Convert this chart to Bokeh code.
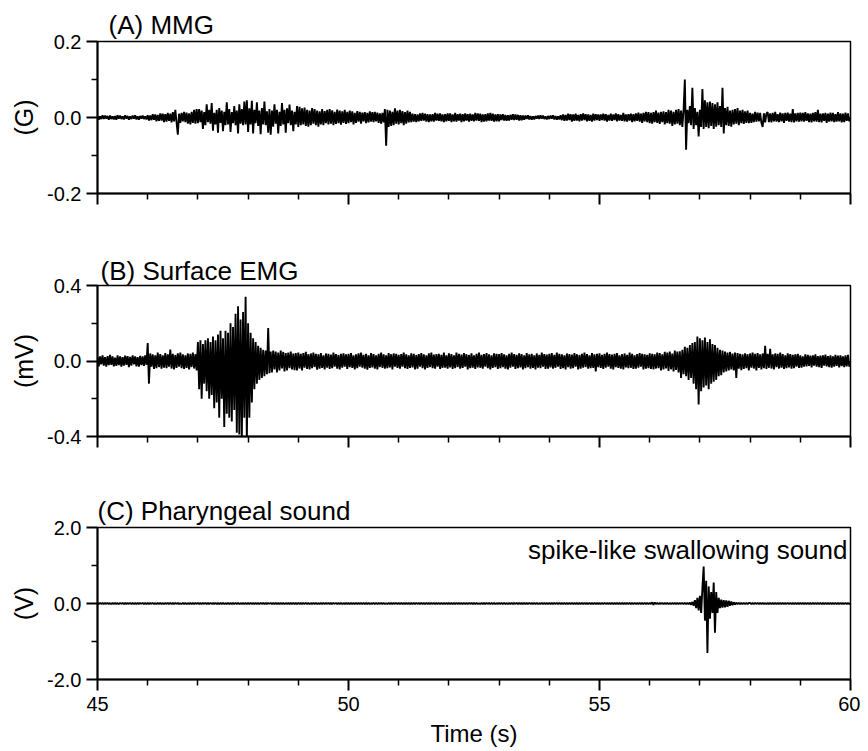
import numpy as np
from bokeh.plotting import figure
from bokeh.layouts import column
from bokeh.models import Range1d, FixedTicker, PrintfTickFormatter, Label
from bokeh.embed import file_html
from bokeh.resources import INLINE

# ---------------- data ----------------
# one row per second (45 s ... 59 s), 0.025 s between samples; last sample at 60 s
t_first = 45
t_step = 0.025

# (A) MMG, values in milli-gauss (shown in G on the axis)
mmg_mG = [
    [4,-6,3,-4,6,-4,5,-3,4,-6,5,-4,3,-5,4,-6,6,-3,5,-4,3,-5,6,-3,4,-6,3,-4,5,-3,6,-5,3,-6,4,-3,5,-4,3,-5],
    [6,-8,5,-7,9,-6,8,-10,7,-9,11,-8,10,-12,9,-11,12,-9,10,-13,14,-10,20,-12,-45,10,-14,12,-10,15,-12,13,-16,11,-18,15,-14,20,-16,22],
    [-15,22,-12,18,-30,14,-20,35,-12,20,-16,38,-35,12,-18,20,-40,25,-14,18,-36,15,-20,40,-18,22,-38,14,-15,30,-20,18,-42,35,-16,22,-20,42,-18,45],
    [-38,24,-18,44,-42,20,-15,40,-22,18,-44,25,-18,42,-20,16,-40,22,-45,18,-24,35,-16,20,-42,15,-22,38,-18,20,-40,24,-15,34,-20,18,-36,15,-18,30],
    [-25,28,-20,24,-18,26,-22,20,-24,18,-20,25,-16,22,-20,18,-24,16,-18,22,-20,17,-15,20,-18,22,-16,19,-20,15,-17,21,-15,18,-19,16,-14,20,-17,15],
    [-15,18,-12,16,-18,12,-14,17,-11,15,-16,13,-10,14,-15,12,-13,16,-11,14,-12,15,-10,13,-14,11,-16,12,-13,22,-74,20,-25,18,-22,15,-20,24,-16,18],
    [-18,20,-15,17,-20,14,-16,18,-13,15,-12,10,-11,9,-12,8,-10,11,-9,12,-8,10,-11,9,-12,8,-10,9,-11,12,-8,10,-9,11,-10,8,-12,9,-10,11],
    [-9,11,-12,8,-10,12,-11,9,-8,10,-12,9,-10,11,-8,9,-11,10,-9,8,-10,12,-8,11,-9,10,-12,8,-11,9,-10,11,-8,12,-9,10,-11,8,-10,9],
    [-10,8,-7,9,-8,7,-9,6,-8,7,-6,9,-7,8,-6,7,-8,6,-7,5,-6,5,-4,6,-5,4,-6,3,-5,4,-3,5,-4,6,-3,5,-4,3,-5,4],
    [-4,5,-3,6,-5,4,-6,3,-5,6,-7,8,-9,7,-8,10,-7,9,-11,8,-9,10,-8,7,-10,9,-8,11,-7,9,-10,8,-9,7,-11,10,-8,9,-7,8],
    [-9,8,-7,10,-8,9,-11,7,-8,10,-9,8,-7,11,-10,9,-8,7,-9,12,-10,8,-11,9,-8,10,-12,9,-10,11,-9,13,-11,10,-14,12,-10,15,-12,14],
    [-15,12,-16,14,-12,18,-14,13,-17,15,-12,16,-18,14,-15,20,-16,18,-22,15,-18,20,-16,22,-20,18,-25,20,100,-85,20,-15,30,-20,78,-30,25,-20,15,-50],
    [20,-25,75,-30,45,-25,40,-28,42,-22,38,-30,35,-24,40,-20,30,-25,78,-42,25,-20,28,-22,18,-24,20,-18,22,-16,25,-20,18,-15,20,-17,16,-14,18,-15],
    [12,-14,10,-12,15,-11,13,-10,12,-14,-25,11,-13,10,14,-12,11,-13,12,-10,15,-11,9,-12,13,-10,11,-14,12,-9,13,-11,10,-12,22,-13,11,-10,12,-11],
    [13,-10,12,-11,14,-9,11,-12,10,-13,12,-10,14,-11,20,-12,10,-13,11,-9,12,-14,10,-11,13,-10,12,-12,9,-11,14,-10,11,-13,10,-12,13,-9,11,-10],
]
mmg_end_mG = 0

# (B) Surface EMG, values in micro-volts (shown in mV on the axis)
emg_uV = [
    [22,-28,25,-18,30,-24,20,-30,26,-22,32,-20,24,-28,18,-26,30,-22,25,-30,20,-24,28,-20,26,-32,22,-25,30,-18,24,-28,20,-30,27,-22,25,-26,30,-20],
    [95,-120,40,-30,35,-42,30,-38,45,-32,36,-40,30,-35,42,-38,35,-30,60,-40,38,-45,32,-36,40,-30,44,-38,35,-42,30,-36,40,-45,38,-32,45,-40,36,-50],
    [100,-150,110,-200,90,-120,110,-160,120,-200,100,-180,130,-250,110,-220,140,-300,160,-200,120,-350,160,-280,150,-300,200,-320,180,-260,250,-380,290,-390,220,-420,260,-300,340,-420],
    [200,-300,150,-220,120,-150,100,-120,80,-100,70,-90,60,-80,55,-70,175,-65,50,-60,55,-45,50,-60,45,-50,55,-40,48,-55,42,-50,45,-38,50,-45,40,-48,42,-50],
    [45,-40,38,-50,42,-35,48,-42,36,-45,40,-38,44,-32,38,-46,35,-40,42,-36,30,-44,40,-35,38,-42,34,-38,45,-30,36,-40,32,-44,38,-35,40,-30,35,-42],
    [38,-32,42,-36,30,-44,35,-38,40,-30,45,-35,32,-40,38,-46,30,-36,42,-34,36,-40,30,-45,38,-32,44,-36,35,-40,30,-38,42,-34,36,-44,40,-30,38,-36],
    [32,-40,36,-30,44,-38,35,-42,30,-36,40,-34,38,-45,32,-40,36,-30,42,-38,35,-44,30,-36,40,-32,45,-38,34,-40,36,-30,38,-42,32,-36,44,-35,30,-40],
    [40,-34,36,-42,30,-38,45,-32,38,-40,34,-36,42,-30,36,-44,32,-38,40,-35,30,-42,38,-34,44,-36,32,-40,36,-30,42,-38,35,-45,30,-36,40,-32,38,-42],
    [36,-38,42,-32,35,-40,30,-44,38,-35,45,-30,36,-42,32,-38,40,-34,36,-45,30,-38,42,-32,35,-40,38,-36,30,-44,40,-35,32,-38,45,-30,36,-42,34,-40],
    [38,-34,42,-40,32,-36,44,-30,38,-42,35,-38,30,-45,40,-32,36,-40,34,-38,42,-30,36,-44,32,-40,38,-35,45,-32,36,-40,30,-38,42,-36,35,-55,38,-32],
    [40,-36,32,-42,38,-35,44,-30,36,-40,34,-45,38,-32,42,-36,30,-40,36,-44,40,-34,32,-38,45,-36,38,-42,30,-40,36,-35,42,-30,38,-44,35,-40,32,-38],
    [40,-42,38,-45,35,-40,44,-38,42,-50,36,-45,48,-40,45,-52,50,-44,40,-55,55,-48,50,-60,52,-90,60,-70,75,-80,70,-100,85,-90,95,-120,100,-150,130,-230],
    [120,-160,110,-140,125,-130,100,-150,115,-120,90,-110,85,-100,70,-80,60,-75,55,-60,50,-55,45,-50,48,-45,40,-50,45,-90,42,-40,38,-48,35,-42,40,-38,36,-50],
    [40,-35,45,-40,38,-50,42,-36,35,-45,40,-38,80,-42,38,-36,65,-40,35,-44,40,-32,38,-40,45,-35,36,-42,30,-38,40,-34,36,-40,32,-38,35,-30,38,-36],
    [30,-35,25,-30,35,-28,32,-26,28,-34,30,-25,35,-30,26,-32,28,-36,30,-25,34,-28,26,-32,30,-35,25,-30,32,-26,28,-34,30,-27,25,-32,30,-28,33,-30],
]
emg_end_uV = 0

# (C) Pharyngeal sound, values in milli-volts (shown in V on the axis)
sound_mV = [
    [12,-10,15,-8,10,-14,12,-9,14,-11,8,-13,11,-10,15,-12,9,-14,12,-8,13,-11,10,-15,12,-9,14,-10,11,-13,9,-12,15,-10,12,-8,14,-11,10,-13],
    [10,-13,12,-9,14,-11,8,-15,12,-10,13,-12,9,-14,11,-8,15,-10,12,-13,10,-11,14,-9,12,-15,8,-12,13,-10,11,-14,9,-12,15,-11,10,-13,12,-9],
    [14,-11,10,-12,13,-9,15,-10,11,-14,12,-8,10,-13,14,-11,9,-12,15,-10,12,-13,8,-11,14,-12,10,-15,11,-9,13,-10,12,-14,9,-11,15,-12,10,-8],
    [11,-14,12,-10,9,-13,15,-11,10,-12,14,-9,12,-15,10,-11,13,-8,12,-14,11,-10,15,-12,9,-13,10,-11,14,-12,8,-10,13,-15,11,-9,12,-14,10,-12],
    [13,-10,11,-15,12,-9,14,-12,10,-13,8,-11,15,-10,12,-14,9,-12,11,-13,14,-10,12,-9,15,-11,10,-13,12,-8,14,-12,11,-10,13,-15,9,-11,12,-14],
    [10,-12,14,-11,9,-13,12,-10,15,-12,11,-9,13,-14,10,-11,12,-15,9,-10,14,-12,11,-13,10,-9,15,-11,12,-14,8,-12,13,-10,11,-15,12,-9,14,-11],
    [12,-9,13,-14,10,-11,15,-12,9,-13,11,-10,14,-12,12,-8,10,-15,13,-11,9,-12,14,-10,11,-13,12,-9,15,-11,10,-14,12,-10,13,-12,9,-11,14,-13],
    [14,-12,10,-13,11,-9,12,-15,13,-10,9,-12,14,-11,10,-13,15,-9,12,-14,11,-10,13,-12,8,-15,12,-11,10,-13,14,-9,11,-12,13,-10,15,-14,9,-11],
    [11,-13,15,-10,12,-12,9,-14,11,-10,13,-15,10,-9,14,-12,12,-11,9,-13,15,-10,11,-12,14,-9,10,-13,12,-11,13,-14,9,-10,12,-15,11,-12,10,-13],
    [13,-11,10,-14,12,-9,14,-12,11,-13,9,-10,15,-12,10,-14,13,-11,12,-9,10,-15,14,-12,11,-10,13,-9,12,-14,10,-11,15,-13,9,-12,14,-10,11,-12],
    [10,-12,13,-11,15,-9,11,-14,12,-10,14,-13,9,-11,12,-15,10,-12,13,-9,11,-14,12,-10,15,-11,9,-13,12,-12,10,-14,13,-9,11,-10,14,-12,12,-11],
    [12,-14,30,-35,25,-12,10,-13,11,-9,14,-12,10,-11,13,-15,9,-12,12,-10,14,-11,10,-13,12,-9,15,-12,11,-14,10,-12,20,-30,40,-60,90,-120,150,-180],
    [200,-250,400,970,-450,600,-1300,450,-400,300,-250,550,-770,300,-250,150,-120,100,-110,90,-100,80,-90,70,-60,50,-45,30,-25,20,-15,12,-14,10,-12,13,-11,9,-12,14],
    [11,-13,10,-12,14,-9,12,-11,13,-10,15,-12,9,-14,11,-10,12,-13,10,-11,14,-12,9,-10,13,-15,11,-12,10,-9,14,-11,12,-13,10,-12,15,-10,11,-14],
    [12,-10,14,-11,9,-13,12,-12,10,-14,13,-9,11,-12,15,-10,12,-13,9,-11,14,-12,10,-10,13,-15,11,-9,12,-13,10,-11,14,-12,9,-12,13,-10,11,-12],
]
sound_end_mV = 0

x_major_ticks = [45, 50, 55, 60]
x_minor_ticks = [46, 47, 48, 49, 51, 52, 53, 54, 56, 57, 58, 59]

panel_titles = ["(A) MMG", "(B) Surface EMG", "(C) Pharyngeal sound"]
panel_units = ["(G)", "(mV)", "(V)"]
panel_limits = [0.2, 0.4, 2.0]
x_label = "Time (s)"
annotation_text = "spike-like swallowing sound"


def to_series(rows, end_value, unit_scale):
    """Lay the rows out on the time axis and convert to the axis unit."""
    ts, vs = [], []
    for r, row in enumerate(rows):
        for k, v in enumerate(row):
            ts.append(t_first + r + k * t_step)
            vs.append(v * unit_scale)
    ts.append(t_first + len(rows))
    vs.append(end_value * unit_scale)
    return np.array(ts), np.array(vs)


# ---------------- styling ----------------
FONT = "Liberation Sans"
FIG_W = 860
BORDER_L = 97
BORDER_R = 10


def make_panel(rows, end_value, unit_scale, ylim, title, unit, height, border_top,
               border_bottom, title_dx, title_standoff, show_xlabels):
    t, y = to_series(rows, end_value, unit_scale)
    p = figure(width=FIG_W, height=height,
               x_range=Range1d(45, 60), y_range=Range1d(-ylim, ylim),
               output_backend="svg", toolbar_location=None,
               min_border_left=BORDER_L, min_border_right=BORDER_R,
               min_border_top=border_top, min_border_bottom=border_bottom)
    p.background_fill_color = "white"
    p.border_fill_color = "white"
    p.outline_line_color = "black"
    p.outline_line_width = 1.5
    p.xgrid.visible = False
    p.ygrid.visible = False

    p.title.text = title
    p.title.align = "left"
    p.title.offset = title_dx
    p.title.standoff = title_standoff
    p.title.text_font = FONT
    p.title.text_font_size = "26px"
    p.title.text_font_style = "normal"
    p.title.text_color = "black"

    p.line(t, y, line_color="black", line_width=1.9)

    # x axis
    xa = p.xaxis[0]
    xa.ticker = FixedTicker(ticks=x_major_ticks, minor_ticks=x_minor_ticks)
    xa.axis_line_width = 2
    xa.major_tick_line_width = 2
    xa.minor_tick_line_width = 1.5
    xa.major_tick_in = 0
    xa.major_tick_out = 11
    xa.minor_tick_in = 0
    xa.minor_tick_out = 6
    xa.major_label_text_font = FONT
    xa.major_label_text_font_size = "20px"
    xa.major_label_text_color = "black"
    xa.major_label_standoff = 6
    if show_xlabels:
        xa.axis_label = x_label
        xa.axis_label_text_font = FONT
        xa.axis_label_text_font_size = "24px"
        xa.axis_label_text_font_style = "normal"
        xa.axis_label_text_color = "black"
        xa.axis_label_standoff = 6
    else:
        xa.major_label_text_color = None

    # y axis
    ya = p.yaxis[0]
    ya.ticker = FixedTicker(ticks=[-ylim, 0.0, ylim], minor_ticks=[-ylim / 2, ylim / 2])
    ya.formatter = PrintfTickFormatter(format="%.1f")
    ya.axis_line_width = 2
    ya.major_tick_line_width = 2
    ya.minor_tick_line_width = 1.5
    ya.major_tick_in = 0
    ya.major_tick_out = 11
    ya.minor_tick_in = 0
    ya.minor_tick_out = 6
    ya.major_label_text_font = FONT
    ya.major_label_text_font_size = "20px"
    ya.major_label_text_color = "black"
    ya.major_label_standoff = 5
    ya.axis_label = unit
    ya.axis_label_text_font = FONT
    ya.axis_label_text_font_size = "25px"
    ya.axis_label_text_font_style = "normal"
    ya.axis_label_text_color = "black"
    ya.axis_label_standoff = 6
    return p


pA = make_panel(mmg_mG, mmg_end_mG, 1e-3, panel_limits[0], panel_titles[0], panel_units[0],
                height=244, border_top=41, border_bottom=51, title_dx=11, title_standoff=3,
                show_xlabels=False)
pB = make_panel(emg_uV, emg_end_uV, 1e-3, panel_limits[1], panel_titles[1], panel_units[1],
                height=242, border_top=41, border_bottom=50, title_dx=3, title_standoff=0,
                show_xlabels=False)
pC = make_panel(sound_mV, sound_end_mV, 1e-3, panel_limits[2], panel_titles[2], panel_units[2],
                height=265, border_top=41, border_bottom=72, title_dx=0, title_standoff=3,
                show_xlabels=True)
pC.add_layout(Label(x=59.94, y=1.42, text=annotation_text, text_font=FONT,
                    text_font_size="26px", text_align="right", text_baseline="alphabetic",
                    text_color="black"))

layout = column(pA, pB, pC, spacing=0)
open("out.html", "w").write(file_html(layout, INLINE))
